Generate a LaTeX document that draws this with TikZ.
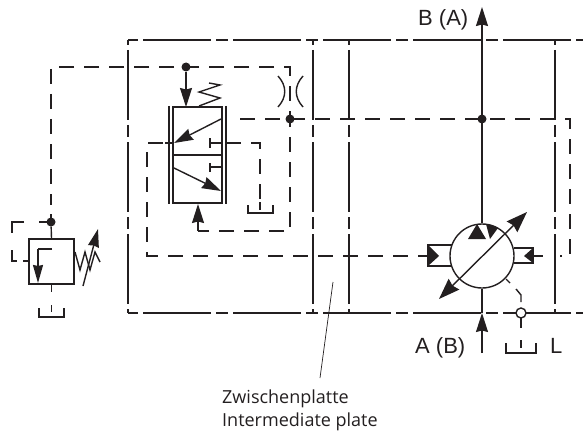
\documentclass[tikz,border=0pt]{standalone}
\usepackage{fontspec}
\setmainfont{Liberation Sans}
\newfontfamily\capfont{Open Sans}
\usetikzlibrary{arrows.meta}
\definecolor{ink}{HTML}{231F20}
\tikzset{
  ln/.style={line width=1.4pt,color=ink},
  frameh/.style={ln,dash pattern=on 68pt off 5pt on 12pt off 5pt,dash phase=75pt},
  framev/.style={ln,dash pattern=on 70pt off 5pt on 12pt off 5pt,dash phase=82pt},
  pilot/.style={ln,dash pattern=on 15pt off 10pt},
  flow/.style={ln,-{Stealth[length=19pt,width=12pt,inset=1.5pt]}},
  bothtips/.style={ln,{Stealth[length=21pt,width=15pt,inset=2pt]}-{Stealth[length=21pt,width=15pt,inset=2pt]}},
  dot/.style={circle,fill=ink,inner sep=0pt,minimum size=9pt},
  lab/.style={font=\fontsize{22}{22}\selectfont,text=ink,inner sep=0pt,anchor=base west},
  captext/.style={font=\capfont\fontsize{18}{20}\selectfont,text=ink,inner sep=0pt,anchor=base west}
}
\begin{document}
\begin{tikzpicture}[x=1pt,y=-1pt]
\useasboundingbox (0,0) rectangle (583,433);
% named points
\coordinate (tl) at (128,40); \coordinate (tr) at (583,40);
\coordinate (bl) at (128,313); \coordinate (br) at (583,313);
% frame
\draw[frameh] (tl) -- (tr);
\draw[frameh] (bl) -- (br);
\draw[framev] (tl) -- (bl);
\draw[framev] (313,40) -- (313,313);
\draw[framev] (349,40) -- (349,313);
\draw[framev] (555,40) -- (555,313);
% pilot lines
\draw[pilot,dash phase=7pt] (290,119) -- (290,67) -- (51,67) -- (51,205);
\draw[pilot] (240,119) -- (570,119) -- (570,256) -- (560,256);
\draw[pilot,dash phase=7pt] (290,119) -- (290,231) -- (198,231);
\draw[pilot] (226,143) -- (260,143) -- (260,207);
\draw[pilot,dash phase=24pt] (164,143) -- (147,143) -- (147,256) -- (428,256);
\draw[ln] (165,143) -- (173,143);
\draw[ln] (533,256) -- (543,256);
\draw[ln] (51,214) -- (51,222);
\draw[ln] (39,222) -- (51,222) (24,222) -- (12,222) -- (12,233) (12,250) -- (12,261) -- (17,261) (23,261) -- (29,261);
\draw[ln] (51.5,284) -- (51.5,292) (51.5,305) -- (51.5,312);
\draw[ln] (506,279) -- (510,283) (516,289) -- (521,295) -- (521,302);
\draw[ln] (521,318) -- (521,328) (521,340) -- (521,348);
% junction dots
\node[dot] (d1) at (186,67) {};
\node[dot] (d2) at (290,119) {};
\node[dot] (d3) at (482,119) {};
\node[dot] (d4) at (51,222) {};
% relief valve box
\node[draw=ink,line width=1.4pt,fill=white,minimum width=45pt,minimum height=45pt,inner sep=0pt] (rv) at (51.5,261.5) {};
% directional valve
\node[draw=ink,line width=1.4pt,fill=white,minimum width=49pt,minimum height=96pt,inner sep=0pt] (sv) at (197.5,155) {};
\draw[ln] (sv.west) -- (sv.east);
\draw[ln] (169,106) -- (169,204);
\draw[ln] (226,106) -- (226,204);
\draw[flow] (d1) -- (186,107);
\draw[flow] (198,231) -- (198,204);
\draw[ln] (198,231) -- (207,231);
\draw[ln] (199,106) -- (220,98) -- (199,92) -- (220,85) -- (209,83);
\draw[flow] (221,119) -- (174,143);
\draw[flow] (174,168) -- (221,191);
\draw[ln] (222,143) -- (210,143) (210,138) -- (210,148);
\draw[ln] (222,167) -- (210,167) (210,163) -- (210,172);
\draw[ln] (248,205) -- (248,213) -- (273,213) -- (273,205);
\draw[ln] (260,202) -- (260,210);
% throttle
\draw[ln] (278,76) .. controls (287,86) and (287,97) .. (278,107);
\draw[ln] (303,76) .. controls (294,86) and (294,97) .. (303,107);
% pump
\node[draw=ink,line width=1.4pt,circle,minimum size=64pt,inner sep=0pt] (pump) at (482,256) {};
\draw[flow] (pump.north) -- (482,7);
\draw[flow] (482,353) -- (482,313);
\draw[ln] (482,313) -- (pump.south);
\draw[bothtips] (439,299) -- (527,212);
\fill[ink] (477,224) -- (468,239) -- (486,239) -- cycle;
\fill[ink] (486,224) .. controls (490,224) and (495,226) .. (498,228) -- (490,239) -- cycle;
\draw[ln] (452,245) -- (428,245) -- (428,266) -- (452,266);
\fill[ink] (428,245) -- (439,256) -- (428,266) -- cycle;
\draw[ln] (514,248) -- (533,248) -- (533,263) -- (514,263);
\fill[ink] (533,248) -- (524,256) -- (533,263) -- cycle;
% case drain
\node[draw=ink,line width=1.4pt,circle,fill=white,minimum size=10pt,inner sep=0pt] (lc) at (521,313) {};
\draw[ln] (506,343) -- (506,353) -- (536,353) -- (536,343);
% relief valve details
\draw[ln] (d4) -- (rv.north);
\draw[ln] (52,249) -- (38,249);
\draw[ln,-{Stealth[length=18pt,width=10pt,inset=1pt]}] (38,249) -- (38,283);
\draw[ln] (75,252) -- (80,270) -- (85,252) -- (90,270) -- (95,252) -- (100,262);
\draw[ln,-{Stealth[length=18pt,width=11pt,inset=1pt]}] (83,286) -- (98,229);
\draw[ln] (39,308) -- (39,317) -- (64,317) -- (64,308);
% text
\node[lab] (ba) at (418,26) {B (A)};
\node[lab] (ab) at (415,353) {A (B)};
\node[lab] (ll) at (550,353) {L};
\node[captext] (c1) at (222,403) {Zwischenplatte};
\node[captext] (c2) at (222,426) {Intermediate plate};
\coordinate (lead) at (333,282);
\draw[ink,line width=.7pt] (lead) -- (320,378);
\end{tikzpicture}
\end{document}
